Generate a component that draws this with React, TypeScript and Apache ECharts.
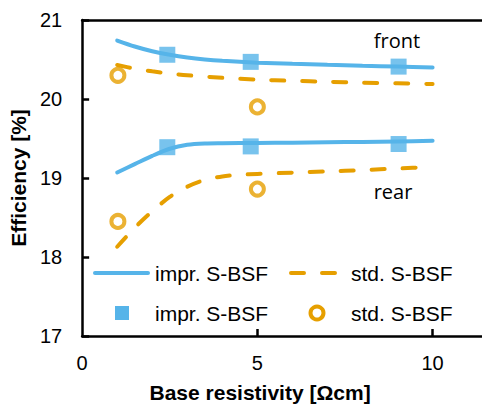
import React, { useEffect, useRef } from "react";
import * as echarts from "echarts";

// Simulated curves (x = base resistivity [Ωcm], y = efficiency [%])
const imprFrontCurve: number[][] = [[1, 20.74], [1.5, 20.665], [2, 20.605], [2.5, 20.56], [3, 20.525], [3.5, 20.5], [4, 20.483], [5, 20.46], [6, 20.445], [7, 20.432], [8, 20.42], [9, 20.41], [10, 20.4]];
const imprRearCurve: number[][] = [[1, 19.07], [1.5, 19.175], [2, 19.28], [2.5, 19.37], [3, 19.42], [3.5, 19.437], [4, 19.44], [5, 19.443], [6, 19.447], [7, 19.452], [8, 19.457], [9, 19.463], [10, 19.47]];
const stdFrontCurve: number[][] = [[1, 20.43], [1.5, 20.385], [2, 20.35], [2.5, 20.322], [3, 20.3], [4, 20.268], [5, 20.245], [6, 20.23], [7, 20.218], [8, 20.207], [9, 20.198], [10, 20.19]];
const stdRearCurve: number[][] = [[1, 18.13], [1.5, 18.37], [2, 18.58], [2.5, 18.76], [3, 18.89], [3.5, 18.975], [4, 19.02], [4.5, 19.04], [5, 19.052], [6, 19.068], [7, 19.083], [8, 19.1], [9, 19.12], [10, 19.14]];

// Measured points
const imprMeasured: number[][] = [[2.43, 20.56], [4.81, 20.47], [9.03, 20.41], [2.43, 19.39], [4.81, 19.4], [9.03, 19.43]];
const stdMeasured: number[][] = [[1.02, 20.3], [5.0, 19.9], [1.02, 18.45], [5.0, 18.86]];

const xTickLabels = [0, 5, 10];
const xTicks = [5, 10];
const legendNames = ["impr. S-BSF", "std. S-BSF"];
const annotations = ["front", "rear"];

const BLUE = "#56B4E9";
const ORANGE = "#E69F00";
const SANS = "'Liberation Sans', Arial, sans-serif";
const LABEL_FONT = "'Open Sans', 'Noto Sans', sans-serif";

export default function App() {
  const ref = useRef<HTMLDivElement>(null);

  useEffect(() => {
    if (!ref.current) return;
    const chart = echarts.init(ref.current, undefined, { renderer: "svg" });

    const lineSeries = (data: number[][], color: string, dashed: boolean) => ({
      type: "line",
      data,
      xAxisIndex: 0,
      yAxisIndex: 0,
      symbol: "none",
      smooth: 0.3,
      lineStyle: {
        color,
        width: 4,
        type: dashed ? [13, 18] : "solid",
        cap: "round",
      },
      z: 2,
    });

    const option: any = {
      animation: false,
      backgroundColor: "#ffffff",
      grid: { left: 78, top: 20, right: 0, bottom: 73, containLabel: false },
      xAxis: [
        {
          type: "value",
          min: 0,
          max: 11.41,
          interval: 5,
          position: "bottom",
          name: "Base resistivity [Ωcm]",
          nameLocation: "middle",
          nameGap: 46,
          nameTextStyle: {
            fontFamily: SANS,
            fontSize: 21,
            fontWeight: "bold",
            color: "#000",
            verticalAlign: "top",
            padding: [0, 44, 0, 0],
          },
          axisLine: { show: true, onZero: false, lineStyle: { color: "#000", width: 2.5 } },
          axisTick: { show: true, inside: true, length: 7, customValues: xTicks, lineStyle: { color: "#000", width: 2.5 } },
          axisLabel: {
            customValues: xTickLabels,
            margin: 17,
            fontFamily: SANS,
            fontSize: 20,
            color: "#000",
          },
          splitLine: { show: false },
        },
        {
          type: "value",
          min: 0,
          max: 11.41,
          position: "top",
          axisLine: { show: true, onZero: false, lineStyle: { color: "#000", width: 2.5 } },
          axisTick: { show: false },
          axisLabel: { show: false },
          splitLine: { show: false },
        },
      ],
      yAxis: {
        type: "value",
        min: 17,
        max: 21,
        interval: 1,
        name: "Efficiency [%]",
        nameLocation: "middle",
        nameGap: 49,
        nameRotate: 90,
        nameTextStyle: {
          fontFamily: SANS,
          fontSize: 21,
          fontWeight: "bold",
          color: "#000",
        },
        axisLine: { show: true, onZero: false, lineStyle: { color: "#000", width: 2.5 } },
        axisTick: { show: true, inside: true, length: 7, lineStyle: { color: "#000", width: 2.5 } },
        axisLabel: { margin: 20, fontFamily: SANS, fontSize: 20, color: "#000" },
        splitLine: { show: false },
      },
      series: [
        lineSeries(stdFrontCurve, ORANGE, true),
        lineSeries(stdRearCurve, ORANGE, true),
        lineSeries(imprFrontCurve, BLUE, false),
        lineSeries(imprRearCurve, BLUE, false),
        {
          type: "scatter",
          data: imprMeasured,
          symbol: "rect",
          symbolSize: 16,
          itemStyle: { color: BLUE },
          z: 3,
        },
        {
          type: "scatter",
          data: stdMeasured,
          symbol: "circle",
          symbolSize: 13,
          itemStyle: { color: "#ffffff", borderColor: ORANGE, borderWidth: 4 },
          z: 3,
        },
      ],
      graphic: [
        {
          type: "text",
          x: 397,
          y: 40,
          style: { text: annotations[0], fontFamily: LABEL_FONT, fontSize: 20, fill: "#000", align: "center", verticalAlign: "middle" },
        },
        {
          type: "text",
          x: 393,
          y: 191,
          style: { text: annotations[1], fontFamily: LABEL_FONT, fontSize: 20, fill: "#000", align: "center", verticalAlign: "middle" },
        },
        // Legend row 1
        {
          type: "line",
          shape: { x1: 95, y1: 273, x2: 148, y2: 273 },
          style: { stroke: BLUE, lineWidth: 4, lineCap: "round" },
        },
        {
          type: "text",
          x: 155,
          y: 273,
          style: { text: legendNames[0], fontFamily: SANS, fontSize: 21, fill: "#000", align: "left", verticalAlign: "middle" },
        },
        {
          type: "line",
          shape: { x1: 291, y1: 273, x2: 337, y2: 273 },
          style: { stroke: ORANGE, lineWidth: 4, lineCap: "round", lineDash: [13, 18] },
        },
        {
          type: "text",
          x: 351,
          y: 273,
          style: { text: legendNames[1], fontFamily: SANS, fontSize: 21, fill: "#000", align: "left", verticalAlign: "middle" },
        },
        // Legend row 2
        {
          type: "rect",
          shape: { x: 115, y: 306, width: 14, height: 14 },
          style: { fill: BLUE },
        },
        {
          type: "text",
          x: 155,
          y: 313,
          style: { text: legendNames[0], fontFamily: SANS, fontSize: 21, fill: "#000", align: "left", verticalAlign: "middle" },
        },
        {
          type: "circle",
          shape: { cx: 317, cy: 313, r: 6.5 },
          style: { fill: "#ffffff", stroke: ORANGE, lineWidth: 4 },
        },
        {
          type: "text",
          x: 351,
          y: 313,
          style: { text: legendNames[1], fontFamily: SANS, fontSize: 21, fill: "#000", align: "left", verticalAlign: "middle" },
        },
      ],
    };

    chart.setOption(option);
    return () => chart.dispose();
  }, []);

  return (
    <div
      ref={ref}
      style={{ position: "absolute", left: 0, top: 0, width: 482, height: 409, background: "#fff" }}
    />
  );
}
